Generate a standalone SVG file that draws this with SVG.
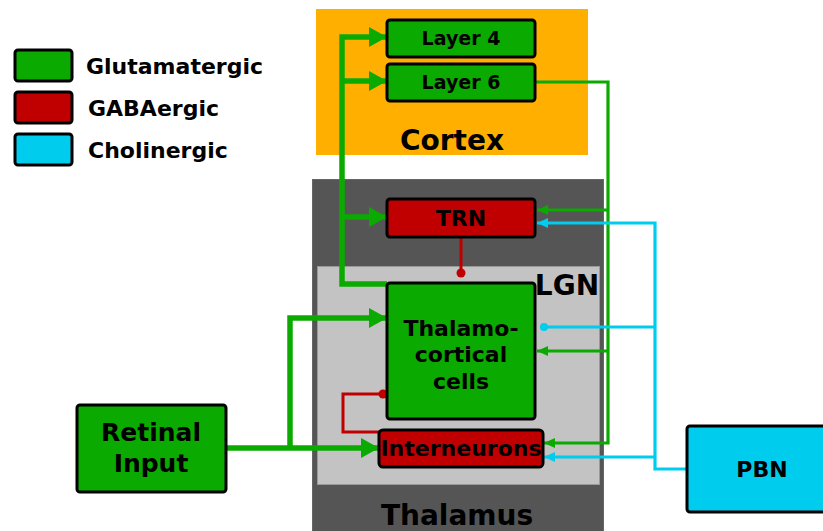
<svg xmlns="http://www.w3.org/2000/svg" width="823" height="531" viewBox="0 0 823 531">
<defs>
<style>
text{font-family:"DejaVu Sans","Liberation Sans",sans-serif;font-weight:bold;fill:#000;text-anchor:middle}
.lg{text-anchor:start;font-size:22px}
.box{stroke:#000;stroke-width:3}
.glu{fill:#0BAA00}
.gaba{fill:#C00000}
.ach{fill:#00CCEE}
.thick{fill:none;stroke:#0BAA00;stroke-width:5.5}
.thin{fill:none;stroke:#0BAA00;stroke-width:3.2}
.cy{fill:none;stroke:#00CCEE;stroke-width:3.2}
.inh{fill:none;stroke:#C00000;stroke-width:3}
</style>
<marker id="ab" markerUnits="userSpaceOnUse" viewBox="0 0 18 20" refX="17" refY="10" markerWidth="18" markerHeight="20" orient="auto"><path d="M0,0 L18,10 L0,20 Z" fill="#0BAA00"/></marker>
<marker id="as" markerUnits="userSpaceOnUse" viewBox="0 0 11 10" refX="11" refY="5" markerWidth="11" markerHeight="10" orient="auto"><path d="M0,0 L11,5 L0,10 Z" fill="#0BAA00"/></marker>
<marker id="ac" markerUnits="userSpaceOnUse" viewBox="0 0 11 10" refX="11" refY="5" markerWidth="11" markerHeight="10" orient="auto"><path d="M0,0 L11,5 L0,10 Z" fill="#00CCEE"/></marker>
</defs>
<rect width="823" height="531" fill="#fff"/>
<g id="cortex"><rect x="316" y="9" width="272" height="146" fill="#FFAF00"/><text x="452" y="150" font-size="28">Cortex</text></g>
<g id="thalamus"><rect x="312.5" y="179.5" width="291" height="360" fill="#555" stroke="#666" stroke-width="1"/><text x="457" y="525" font-size="28">Thalamus</text></g>
<g id="lgn"><rect x="317.5" y="266.5" width="282" height="218" fill="#C3C3C3" stroke="#999" stroke-width="1"/><text x="567" y="295" font-size="28">LGN</text></g>
<g id="legend">
<rect class="box glu" x="15" y="50" width="57" height="31" rx="3"/><text class="lg" x="86" y="74">Glutamatergic</text>
<rect class="box gaba" x="15" y="92" width="57" height="31" rx="3"/><text class="lg" x="88" y="116">GABAergic</text>
<rect class="box ach" x="15" y="134" width="57" height="31" rx="3"/><text class="lg" x="88" y="158">Cholinergic</text>
</g>
<g id="connectors">
<path class="thick" d="M387,284 L342,284 L342,37 L386,37" marker-end="url(#ab)"/>
<path class="thick" d="M342,81 L386,81" marker-end="url(#ab)"/>
<path class="thick" d="M342,217 L386,217" marker-end="url(#ab)"/>
<path class="thick" d="M226,448 L378,448" marker-end="url(#ab)"/>
<path class="thick" d="M290,448 L290,318 L386,318" marker-end="url(#ab)"/>
<path class="thin" d="M535,82 L608,82 L608,443 L544,443" marker-end="url(#as)"/>
<path class="thin" d="M608,210 L537,210" marker-end="url(#as)"/>
<path class="thin" d="M608,351 L537,351" marker-end="url(#as)"/>
<path class="cy" d="M687,469 L655,469 L655,223 L537,223" marker-end="url(#ac)"/>
<path class="cy" d="M655,327 L544,327"/>
<circle cx="544" cy="327" r="4" fill="#00CCEE"/>
<path class="cy" d="M655,457 L544,457" marker-end="url(#ac)"/>
<path class="inh" d="M461,237 L461,273"/>
<circle cx="461" cy="273" r="4.5" fill="#C00000"/>
<path class="inh" d="M380,432 L343,432 L343,394 L383,394"/>
<circle cx="383" cy="394" r="4.5" fill="#C00000"/>
</g>
<g id="layer4"><rect class="box glu" x="387" y="20" width="148" height="37" rx="3"/><text x="461" y="45" font-size="19">Layer 4</text></g>
<g id="layer6"><rect class="box glu" x="387" y="64" width="148" height="37" rx="3"/><text x="461" y="89" font-size="19">Layer 6</text></g>
<g id="trn"><rect class="box gaba" x="387" y="199" width="148" height="38" rx="3"/><text x="461" y="226" font-size="22">TRN</text></g>
<g id="thalamocortical"><rect class="box glu" x="387" y="283" width="148" height="136" rx="3"/><text x="461" y="336" font-size="22">Thalamo-</text><text x="461" y="362" font-size="22">cortical</text><text x="461" y="389" font-size="22">cells</text></g>
<g id="interneurons"><rect class="box gaba" x="379" y="430" width="164" height="37" rx="4"/><text x="461" y="456" font-size="22">Interneurons</text></g>
<g id="retinal"><rect class="box glu" x="77" y="405" width="149" height="87" rx="3"/><text x="151" y="441" font-size="25">Retinal</text><text x="151" y="472" font-size="25">Input</text></g>
<g id="pbn"><rect class="box ach" x="687" y="426" width="140" height="86" rx="3"/><text x="762" y="477" font-size="22">PBN</text></g>
</svg>
